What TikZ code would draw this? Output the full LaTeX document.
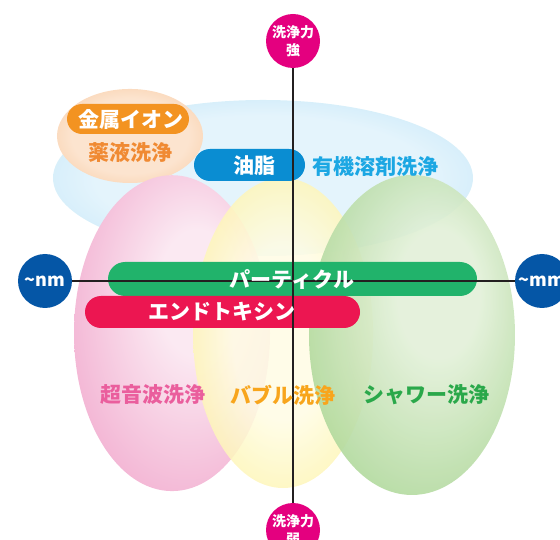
\documentclass[tikz,border=0pt]{standalone}
\usepackage{fontspec}
\setmainfont{Noto Sans CJK JP}
\usetikzlibrary{fadings}
\definecolor{axisC}{HTML}{231F20}
\definecolor{magC}{HTML}{E4007F}
\definecolor{navyC}{HTML}{0556A6}
\definecolor{grnP}{HTML}{21B36B}
\definecolor{redP}{HTML}{EC1651}
\definecolor{bluP}{HTML}{0A8DD2}
\definecolor{orgP}{HTML}{F39321}
\definecolor{cyanT}{HTML}{1CA7E3}
\definecolor{orgT}{HTML}{F08A33}
\definecolor{pinkT}{HTML}{EA5E9D}
\definecolor{yelT}{HTML}{F8A51C}
\definecolor{grnT}{HTML}{2AA84A}
% ellipse colours
\definecolor{pkC}{HTML}{FBE9F2}\definecolor{pkE}{HTML}{EF9BC5}
\definecolor{ylC}{HTML}{FFFCE4}\definecolor{ylE}{HTML}{FCEE7E}
\definecolor{gnC}{HTML}{E2F0D8}\definecolor{gnE}{HTML}{96CC7C}
\definecolor{blC}{HTML}{E4F4FC}\definecolor{blE}{HTML}{AEDDF5}
\definecolor{orC}{HTML}{FCE4CF}\definecolor{orE}{HTML}{F6BE8C}
\pgfdeclareradialshading{edgefade}{\pgfpointorigin}{color(0bp)=(white); color(44bp)=(white); color(50bp)=(black)}
\pgfdeclarefading{softedge}{\pgfuseshading{edgefade}}
\pgfdeclareradialshading{pinkshade}{\pgfpoint{8bp}{8bp}}{color(0bp)=(pkC); color(10bp)=(pkC); color(41bp)=(pkE); color(50bp)=(pkE)}
\pgfdeclareradialshading{yelshade}{\pgfpoint{0bp}{0bp}}{color(0bp)=(ylC); color(14bp)=(ylC); color(41bp)=(ylE); color(50bp)=(ylE)}
\pgfdeclareradialshading{grnshade}{\pgfpoint{8bp}{8bp}}{color(0bp)=(gnC); color(10bp)=(gnC); color(41bp)=(gnE); color(50bp)=(gnE)}
\pgfdeclareradialshading{blushade}{\pgfpoint{0bp}{0bp}}{color(0bp)=(blC); color(20bp)=(blC); color(42bp)=(blE); color(50bp)=(blE)}
\pgfdeclareradialshading{orgshade}{\pgfpoint{0bp}{0bp}}{color(0bp)=(orC); color(20bp)=(orC); color(42bp)=(orE); color(50bp)=(orE)}
\tikzset{
  blob/.style={path fading=softedge},
  pill/.style={rectangle, inner sep=0pt, draw=none},
  endcirc/.style={circle, inner sep=0pt, minimum size=54pt, text=white, font=\bfseries\fontsize{14}{18}\selectfont, align=center},
  sidecirc/.style={endcirc, fill=navyC, font=\bfseries\fontsize{18}{20}\selectfont},
  topcirc/.style={endcirc, fill=magC},
  label/.style={inner sep=0pt, font=\bfseries\fontsize{21}{24}\selectfont},
  pilltext/.style={label, text=white},
  axisline/.style={draw=axisC, line width=2.5pt}
}
\begin{document}
\begin{tikzpicture}[x=1pt,y=-1pt]
\useasboundingbox (0,0) rectangle (560,540);
\clip (0,0) rectangle (560,540);
% soft background blobs
\shade[shading=blushade, blob] (263,178) ellipse [x radius=210pt, y radius=78pt];
\shade[shading=orgshade, blob] (130,136) ellipse [x radius=73pt, y radius=47pt];
\shade[shading=pinkshade, blob] (172,333) ellipse [x radius=98pt, y radius=158pt];
\shade[shading=yelshade, blob, opacity=0.85] (283,333) ellipse [x radius=90pt, y radius=155pt];
\shade[shading=grnshade, blob, opacity=0.9] (412,335) ellipse [x radius=103pt, y radius=160pt];
% pills
\node[pill, fill=grnP, minimum width=369pt, minimum height=34pt, rounded corners=17pt] (partP) at (292.5,279) {};
\node[pill, fill=redP, minimum width=275pt, minimum height=32pt, rounded corners=16pt] (endoP) at (222.5,312) {};
\node[pill, fill=bluP, minimum width=111pt, minimum height=32pt, rounded corners=16pt] (oilP) at (249.5,165) {};
\node[pill, fill=orgP, minimum width=122pt, minimum height=30pt, rounded corners=15pt] (metalP) at (128,119) {};
% axis end circles
\node[topcirc] (top) at (293,41) {洗浄力\\強};
\node[topcirc] (bot) at (293,530) {洗浄力\\弱};
\node[sidecirc] (left) at (45,281) {\textasciitilde nm};
\node[sidecirc] (right) at (542,281) {\textasciitilde mm};
% axes
\draw[axisline] (top) -- (bot);
\draw[axisline] (left) -- (right);
% texts
\node[pilltext] (partT) at (292,279) {パーティクル};
\node[pilltext] (endoT) at (222,312) {エンドトキシン};
\node[pilltext] (oilT) at (254,166) {油脂};
\node[pilltext] (metalT) at (131,119) {金属イオン};
\node[label, text=cyanT] (orgsolv) at (375,167) {有機溶剤洗浄};
\node[label, text=orgT] (chem) at (130,153) {薬液洗浄};
\node[label, text=pinkT] (ultra) at (153,395) {超音波洗浄};
\node[label, text=yelT] (bubble) at (283,395) {バブル洗浄};
\node[label, text=grnT] (shower) at (426,395) {シャワー洗浄};
\end{tikzpicture}
\end{document}
